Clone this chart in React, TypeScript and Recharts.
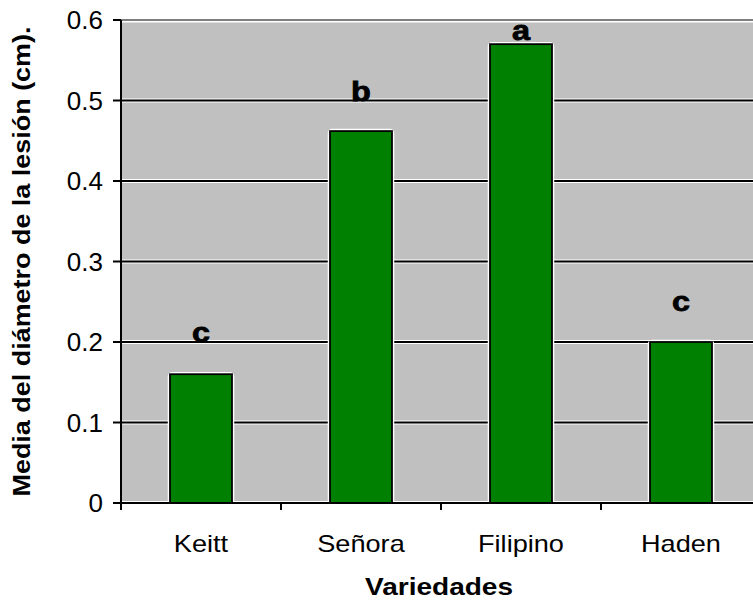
import { BarChart, Bar, XAxis, YAxis, CartesianGrid, LabelList, Label } from "recharts";

const varieties = ["Keitt", "Señora", "Filipino", "Haden"];
const lesionMeans = [0.16, 0.462, 0.57, 0.2];
const groupLetters = ["c", "b", "a", "c"];
const yTicks = [0, 0.1, 0.2, 0.3, 0.4, 0.5, 0.6];

// how far each letter sits above its bar (placed by hand in the original)
const letterOffsets = [32, 30, 4, 31];

const FONT = "'Liberation Sans', Arial, sans-serif";
const TOP = 20;
const CHART_W = 761;
const CHART_H = 603;
const Y_AXIS_W = 121;
const BAND = (CHART_W - Y_AXIS_W) / varieties.length;

const data = varieties.map((name, i) => ({ name, value: lesionMeans[i], letter: groupLetters[i] }));

const GridLine = (props: any) => {
  const { x1, x2, y1 } = props;
  if (y1 <= TOP + 0.5) {
    return (
      <g key={`h-${y1}`}>
        <line x1={x1} x2={x2} y1={y1 + 1.8} y2={y1 + 1.8} stroke="#fff" strokeWidth={1.5} />
        <line x1={x1} x2={x2} y1={y1} y2={y1} stroke="#7f7f7f" strokeWidth={2} />
      </g>
    );
  }
  return (
    <g key={`h-${y1}`}>
      <line x1={x1} x2={x2} y1={y1} y2={y1} stroke="#fff" strokeWidth={4.2} />
      <line x1={x1} x2={x2} y1={y1} y2={y1} stroke="#000" strokeWidth={2} />
    </g>
  );
};

const BarShape = (props: any) => {
  const { x, y, width, height } = props;
  return (
    <g>
      <rect x={x} y={y} width={width} height={height} fill="none" stroke="#fff" strokeWidth={4.5} rx={2} />
      <rect x={x} y={y} width={width} height={height} fill="#008000" stroke="#000" strokeWidth={1.8} />
    </g>
  );
};

const LetterLabel = (props: any) => {
  const { x, y, width, value, index } = props;
  const cx = x + width / 2;
  const by = y - letterOffsets[index];
  return (
    <text
      transform={`translate(${cx},${by}) scale(1.2,1)`}
      textAnchor="middle"
      fontFamily={FONT}
      fontWeight="bold"
      fontSize={27}
      fill="#000"
      stroke="#000"
      strokeWidth={0.8}
    >
      {value}
    </text>
  );
};

const CategoryTick = (props: any) => {
  const { x, y, payload } = props;
  return (
    <g>
      <line x1={x - BAND / 2} x2={x - BAND / 2} y1={y} y2={y + 7} stroke="#000" strokeWidth={2} />
      <line x1={x + BAND / 2} x2={x + BAND / 2} y1={y} y2={y + 7} stroke="#000" strokeWidth={2} />
      <text
        transform={`translate(${x},${y + 49}) scale(1.18,1)`}
        textAnchor="middle"
        fontFamily={FONT}
        fontSize={23}
        fill="#000"
      >
        {payload.value}
      </text>
    </g>
  );
};

export default function App() {
  return (
    <div style={{ width: 753, height: 603, overflow: "hidden", background: "#fff" }}>
      <style>{`body{margin:0;overflow:hidden}`}</style>
      <BarChart
        width={CHART_W}
        height={CHART_H}
        data={data}
        margin={{ top: TOP, right: 0, left: 0, bottom: 0 }}
        barSize={62}
      >
        <CartesianGrid vertical={false} horizontal={GridLine} fill="#c0c0c0" fillOpacity={1} />
        <XAxis
          dataKey="name"
          height={100}
          axisLine={{ stroke: "#000", strokeWidth: 2 }}
          tickLine={false}
          tickSize={0}
          tickMargin={0}
          interval={0}
          tick={<CategoryTick />}
        >
          <Label
            content={(p: any) => {
              const { x, y, width } = p.viewBox;
              return (
                <text
                  x={x + width / 2 - 2}
                  y={y + 92}
                  textAnchor="middle"
                  fontFamily={FONT}
                  fontWeight="bold"
                  fontSize={24}
                  textLength={148}
                  lengthAdjust="spacingAndGlyphs"
                  fill="#000"
                >
                  Variedades
                </text>
              );
            }}
          />
        </XAxis>
        <YAxis
          width={Y_AXIS_W}
          domain={[0, 0.6]}
          ticks={yTicks}
          interval={0}
          axisLine={{ stroke: "#000", strokeWidth: 2 }}
          tickLine={{ stroke: "#000", strokeWidth: 2 }}
          tickSize={8}
          tickMargin={10}
          tick={{ fill: "#000", fontSize: 26, fontFamily: FONT }}
          tickFormatter={(v: number) => (v === 0 ? "0" : v.toFixed(1))}
        >
          <Label
            content={(p: any) => {
              const { x, y, height } = p.viewBox;
              const cx = x + 22;
              const cy = y + height / 2;
              return (
                <text
                  x={cx}
                  y={cy}
                  transform={`rotate(-90 ${cx} ${cy})`}
                  textAnchor="middle"
                  dominantBaseline="central"
                  fontFamily={FONT}
                  fontWeight="bold"
                  fontSize={23}
                  textLength={470}
                  lengthAdjust="spacingAndGlyphs"
                  fill="#000"
                >
                  Media del diámetro de la lesión (cm).
                </text>
              );
            }}
          />
        </YAxis>
        <Bar dataKey="value" shape={<BarShape />} isAnimationActive={false}>
          <LabelList dataKey="letter" content={<LetterLabel />} />
        </Bar>
      </BarChart>
    </div>
  );
}
